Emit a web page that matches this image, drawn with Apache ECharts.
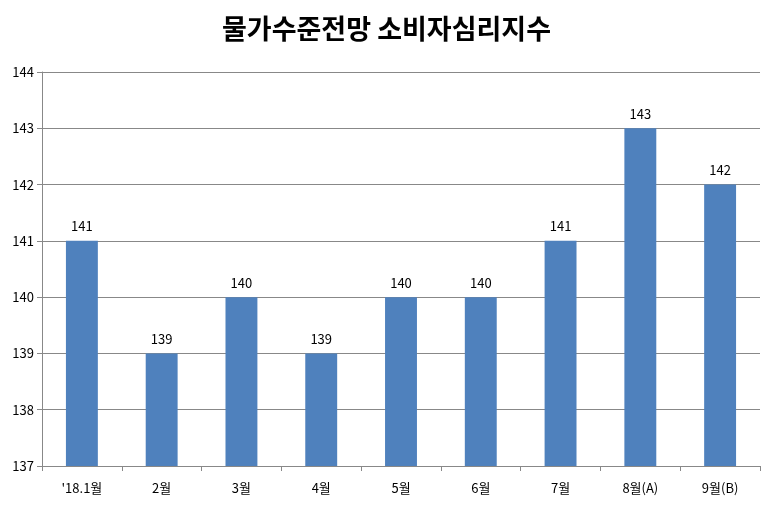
<!DOCTYPE html>
<html>
<head>
<meta charset="utf-8">
<script src="https://cdn.jsdelivr.net/npm/echarts@6/dist/echarts.min.js"></script>
<style>html,body{margin:0;padding:0;background:#fff}#chart{width:773px;height:513px}</style>
</head>
<body>
<div id="chart"></div>
<script>
var categories = ["'18.1월", '2월', '3월', '4월', '5월', '6월', '7월', '8월(A)', '9월(B)'];
var values = [141, 139, 140, 139, 140, 140, 141, 143, 142];

var myChart = echarts.init(document.getElementById('chart'));
var font = '"Noto Sans CJK KR", "Malgun Gothic", sans-serif';

var option = {
    animation: false,
    title: {
        text: '물가수준전망 소비자심리지수',
        left: 'center',
        top: 10,
        textStyle: { fontFamily: font, fontSize: 27, fontWeight: 'bold', color: '#000' }
    },
    grid: { left: 42, right: 13, top: 72, bottom: 47 },
    xAxis: {
        type: 'category',
        data: categories,
        axisLine: { lineStyle: { color: '#888' } },
        axisTick: { show: true, alignWithLabel: false, lineStyle: { color: '#888' } },
        axisLabel: { color: '#000', fontFamily: font, fontSize: 13, margin: 16 }
    },
    yAxis: {
        type: 'value',
        min: 137,
        max: 144,
        interval: 1,
        axisLine: { show: true, lineStyle: { color: '#888' } },
        axisTick: { show: true, lineStyle: { color: '#888' } },
        splitLine: { lineStyle: { color: '#888' } },
        axisLabel: { color: '#000', fontFamily: font, fontSize: 13 }
    },
    series: [{
        type: 'bar',
        data: values,
        barWidth: '40%',
        itemStyle: { color: '#4F81BD' },
        label: { show: true, position: 'top', color: '#000', fontFamily: font, fontSize: 13, distance: 8 }
    }]
};
myChart.setOption(option);
</script>
</body>
</html>
